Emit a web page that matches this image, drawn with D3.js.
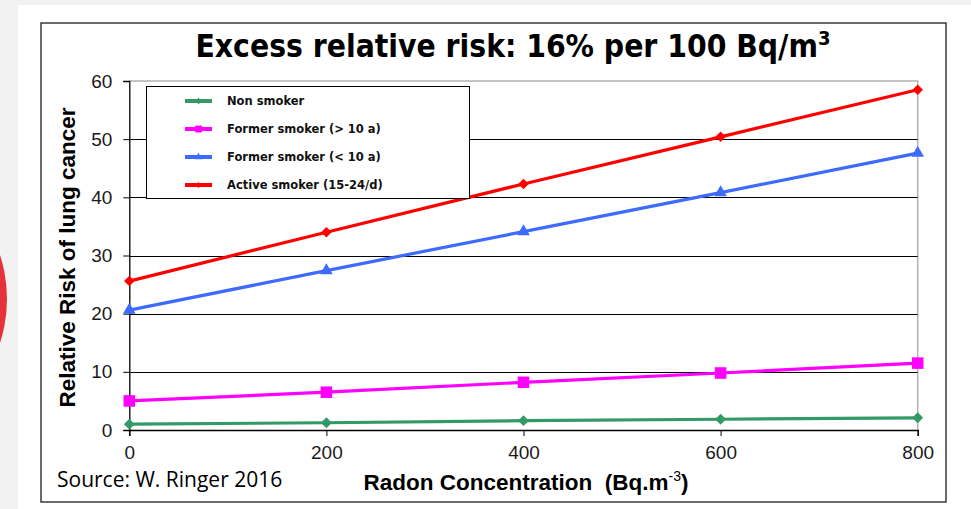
<!DOCTYPE html>
<html>
<head>
<meta charset="utf-8">
<script src="https://cdn.jsdelivr.net/npm/d3@7"></script>
<style>
  html, body { margin: 0; padding: 0; background: #f2f2f2; }
  svg { display: block; }
</style>
</head>
<body>
<div id="chart"></div>
<script>
// radon concentration (Bq/m3)
const concentrations = [0, 200, 400, 600, 800];
const seriesNames = ["Non smoker", "Former smoker (> 10 a)", "Former smoker (< 10 a)", "Active smoker (15-24/d)"];
const nonSmoker = [1.0, 1.25, 1.6, 1.85, 2.1];
const formerOld = [5.0, 6.5, 8.2, 9.8, 11.5];
const formerRecent = [20.6, 27.4, 34.1, 40.8, 47.6];
const activeSmoker = [25.6, 34.0, 42.3, 50.4, 58.5];
const yTicks = [0, 10, 20, 30, 40, 50, 60];
const xTicks = [0, 200, 400, 600, 800];

const width = 971, height = 509;

const series = [
    {name: seriesNames[0], values: nonSmoker, color: "#339966", symbol: d3.symbolDiamond2, size: 75},
    {name: seriesNames[1], values: formerOld, color: "#ff00ff", symbol: d3.symbolSquare2, size: 170},
    {name: seriesNames[2], values: formerRecent, color: "#3d6bff", symbol: d3.symbolTriangle2, size: 115},
    {name: seriesNames[3], values: activeSmoker, color: "#ff0000", symbol: d3.symbolDiamond2, size: 70}
];

const svg = d3.select("#chart").append("svg")
    .attr("width", width)
    .attr("height", height);

// slide background bits
svg.append("circle")
    .attr("cx", -134).attr("cy", 299).attr("r", 141)
    .attr("fill", "#e5333b");
svg.append("rect")
    .attr("x", 18).attr("y", 5)
    .attr("width", width - 18).attr("height", height - 5)
    .attr("fill", "#ffffff");
svg.append("rect")
    .attr("x", 41).attr("y", 23)
    .attr("width", 905).attr("height", 479)
    .attr("fill", "none")
    .attr("stroke", "#3a3a3a")
    .attr("stroke-width", 1.5);

const x = d3.scaleLinear().domain([0, 800]).range([129.3, 917.7]);
const y = d3.scaleLinear().domain([0, 60]).range([430, 81]);

// plot area border (grey)
svg.append("path")
    .attr("d", `M${x(0)},${y(60)}H${x(800)}V${y(0)}`)
    .attr("fill", "none")
    .attr("stroke", "#b3b3b3")
    .attr("stroke-width", 1.5);

// horizontal gridlines
svg.append("g")
    .selectAll("line")
    .data(yTicks.filter(d => d > 0 && d < 60))
    .join("line")
    .attr("x1", x(0)).attr("x2", x(800))
    .attr("y1", d => Math.round(y(d)) + 0.5).attr("y2", d => Math.round(y(d)) + 0.5)
    .attr("stroke", "#000")
    .attr("stroke-width", 1);

// y axis
const yAxis = svg.append("g")
    .attr("transform", `translate(${x(0)},0)`)
    .call(d3.axisLeft(y).tickValues(yTicks).tickSize(6).tickPadding(11));
yAxis.select(".domain").attr("stroke", "#000").attr("stroke-width", 1.3);
yAxis.selectAll(".tick line").attr("stroke", "#000");
yAxis.selectAll("text")
    .attr("font-family", "Liberation Sans, Arial, sans-serif")
    .attr("font-size", 19)
    .attr("fill", "#1a1a1a");

// x axis
const xAxis = svg.append("g")
    .attr("transform", `translate(0,${y(0)})`)
    .call(d3.axisBottom(x).tickValues(xTicks).tickSize(6).tickPadding(10));
xAxis.select(".domain").attr("stroke", "#000").attr("stroke-width", 1.3);
xAxis.selectAll(".tick line").attr("stroke", "#000");
xAxis.selectAll("text")
    .attr("font-family", "Liberation Sans, Arial, sans-serif")
    .attr("font-size", 19)
    .attr("fill", "#1a1a1a");

// lines + markers
const line = d3.line()
    .x((d, i) => x(concentrations[i]))
    .y(d => y(d));

series.forEach(s => {
    svg.append("path")
        .datum(s.values)
        .attr("d", line)
        .attr("fill", "none")
        .attr("stroke", s.color)
        .attr("stroke-width", 3.2);

    svg.append("g")
        .selectAll("path")
        .data(s.values)
        .join("path")
        .attr("transform", (d, i) => `translate(${x(concentrations[i])},${y(d)})`)
        .attr("d", d3.symbol().type(s.symbol).size(s.size))
        .attr("fill", s.color);
});

// legend
const legend = svg.append("g");
legend.append("rect")
    .attr("x", 146.5).attr("y", 86.5)
    .attr("width", 323).attr("height", 112)
    .attr("fill", "#fff")
    .attr("stroke", "#000")
    .attr("stroke-width", 1);

const rows = legend.selectAll("g.row")
    .data(series)
    .join("g")
    .attr("class", "row")
    .attr("transform", (d, i) => `translate(0,${101 + i * 28})`);
rows.append("line")
    .attr("x1", 185).attr("x2", 212)
    .attr("stroke", d => d.color)
    .attr("stroke-width", 4);
rows.append("path")
    .attr("transform", "translate(198.5,0)")
    .attr("d", d => d3.symbol().type(d.symbol).size(d.size * 0.35)())
    .attr("fill", d => d.color);
rows.append("text")
    .attr("x", 227)
    .attr("dy", "0.35em")
    .attr("font-family", "DejaVu Sans, Verdana, sans-serif")
    .attr("font-size", 11.5)
    .attr("font-weight", "bold")
    .attr("fill", "#111")
    .text(d => d.name);

// title
const title = svg.append("text")
    .attr("x", 513).attr("y", 57)
    .attr("text-anchor", "middle")
    .attr("font-family", "DejaVu Sans Condensed, DejaVu Sans, sans-serif")
    .attr("font-stretch", "condensed")
    .attr("font-size", 31.5)
    .attr("font-weight", "bold")
    .attr("fill", "#000");
title.append("tspan").text("Excess relative risk: 16% per 100 Bq/m");
title.append("tspan").attr("font-size", 20).attr("dy", -12).text("3");

// axis titles
svg.append("text")
    .attr("transform", `translate(75,${y(30) + 2}) rotate(-90)`)
    .attr("text-anchor", "middle")
    .attr("font-family", "Liberation Sans, Arial, sans-serif")
    .attr("font-size", 22.5)
    .attr("font-weight", "bold")
    .attr("fill", "#000")
    .text("Relative Risk of lung cancer");

const xt = svg.append("text")
    .attr("x", 526).attr("y", 490)
    .attr("text-anchor", "middle")
    .attr("font-family", "Liberation Sans, Arial, sans-serif")
    .attr("font-size", 22.5)
    .attr("font-weight", "bold")
    .attr("fill", "#000")
    .attr("xml:space", "preserve");
xt.append("tspan").text("Radon Concentration  (Bq.m");
xt.append("tspan").attr("font-size", 14).attr("font-weight", "normal").attr("dy", -9).text("-3");
xt.append("tspan").attr("dy", 9).text(")");

// source note
svg.append("text")
    .attr("x", 57).attr("y", 487)
    .attr("font-family", "Open Sans, Liberation Sans, sans-serif")
    .attr("font-size", 21)
    .attr("fill", "#000")
    .text("Source: W. Ringer 2016");
</script>
</body>
</html>
